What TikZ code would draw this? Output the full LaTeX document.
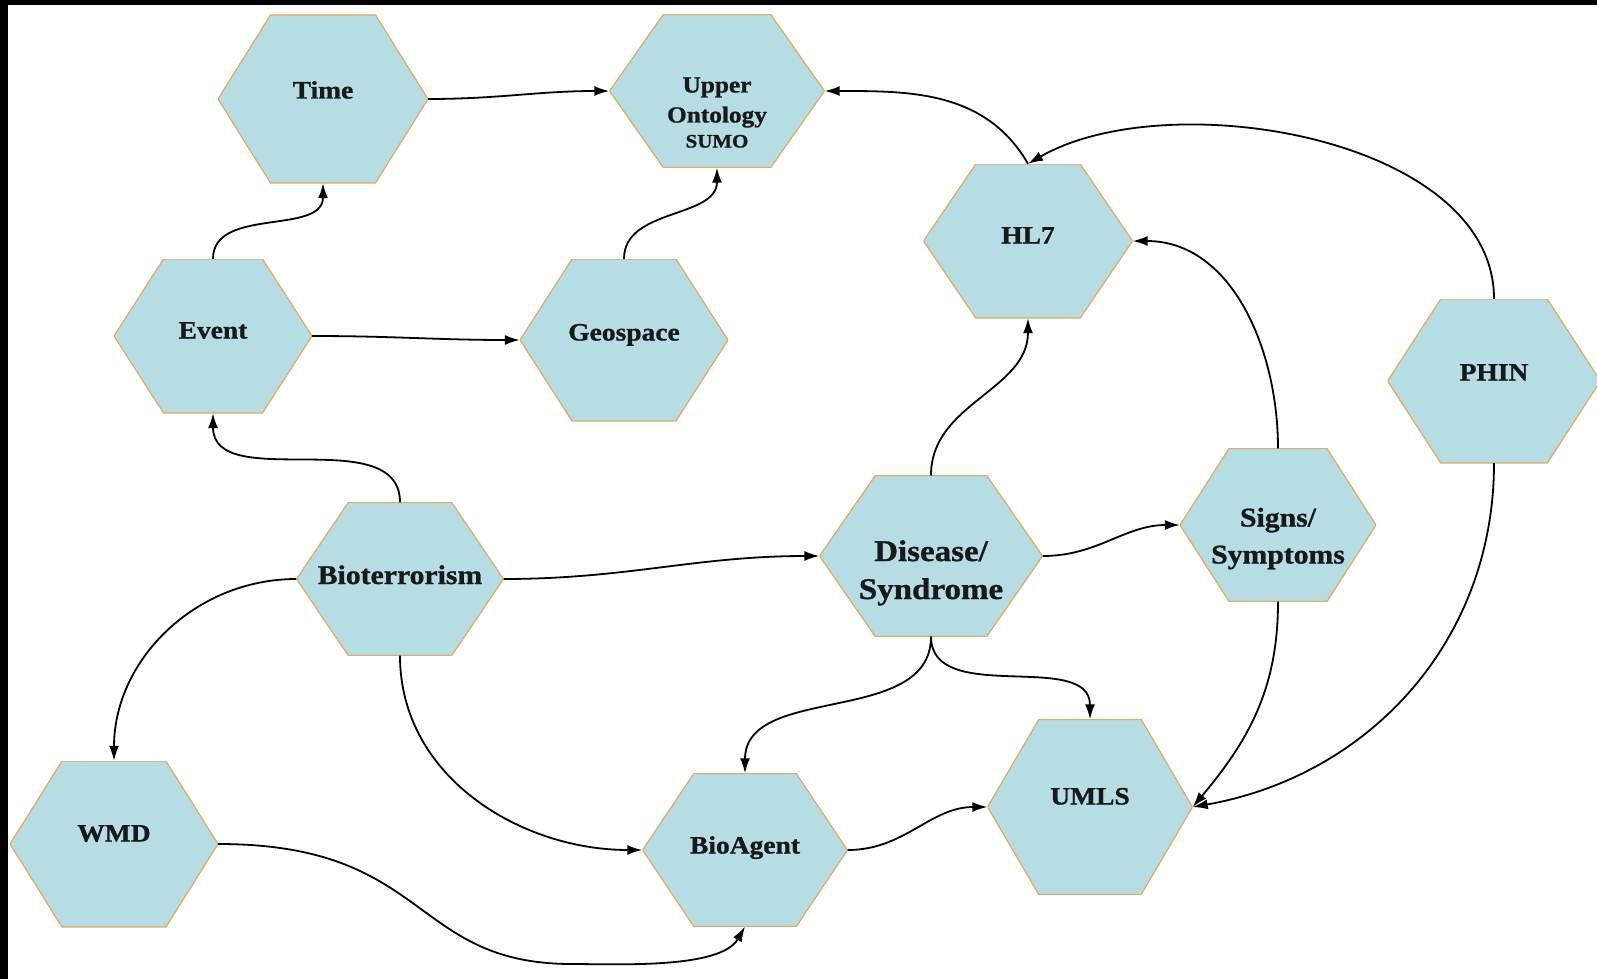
\documentclass[tikz,border=0pt]{standalone}
\usepackage{fontspec}
\newfontfamily\hexfont[FakeStretch=1.1, BoldFeatures={FakeBold=1}]{Liberation Serif}
\usetikzlibrary{calc,arrows.meta}

\definecolor{hexfill}{RGB}{181,221,227}
\definecolor{hexline}{RGB}{228,170,90}

\tikzset{
  hexa/.style={inner sep=0pt, align=center, text=black!90,
    path picture={
      \path[fill=hexfill, draw=hexline, line width=1.2pt]
        let \p1=(path picture bounding box.south west),
            \p2=(path picture bounding box.north east),
            \n1={0.25*(\x2-\x1)}, \n2={(\y1+\y2)/2}
        in (\x1,\n2) -- ({\x1+\n1},\y2) -- ({\x2-\n1},\y2) -- (\x2,\n2)
           -- ({\x2-\n1},\y1) -- ({\x1+\n1},\y1) -- cycle;
    }},
  txt/.style={text height=17pt, text depth=#1},
  arr/.style={-{Latex[length=15pt,width=10pt]}, line width=1.8pt, black},
}

\begin{document}
\begin{tikzpicture}[x=1pt,y=1pt]
    \providecommand{\labelsize}{\fontsize{25}{30}\selectfont}
    \providecommand{\bigsize}{\fontsize{30}{38}\selectfont}
    \providecommand{\midsize}{\fontsize{27}{37}\selectfont}
    \providecommand{\topsize}{\fontsize{23}{30}\selectfont}
    \useasboundingbox (0,0) rectangle (1597,-979);
    \fill[white] (0,0) rectangle (1597,-979);
    % black frame left and top
    \fill[black] (0,0) rectangle (1597,-5);
    \fill[black] (0,0) rectangle (8,-979);

    \node[hexa, minimum width=210pt, minimum height=168pt, font=\hexfont\bfseries\labelsize, txt=18pt] (time) at (323,-99) {Time};
    \node[hexa, minimum width=215pt, minimum height=153pt, font=\hexfont\bfseries\topsize, text height=120pt, text depth=7pt] (upper) at (717,-91) {Upper\\Ontology\\[-5pt]{\fontsize{19}{22}\selectfont SUMO}};
    \node[hexa, minimum width=198pt, minimum height=154pt, font=\hexfont\bfseries\labelsize, txt=12pt] (event) at (213,-336) {Event};
    \node[hexa, minimum width=208pt, minimum height=162pt, font=\hexfont\bfseries\labelsize, txt=16pt] (geo) at (624,-340) {Geospace};
    \node[hexa, minimum width=209pt, minimum height=154pt, font=\hexfont\bfseries\labelsize, txt=12pt] (hl7) at (1028,-241) {HL7};
    \node[hexa, minimum width=213pt, minimum height=164pt, font=\hexfont\bfseries\labelsize, txt=18pt] (phin) at (1494,-381) {PHIN};
    \node[hexa, minimum width=207pt, minimum height=153pt, font=\hexfont\bfseries\fontsize{27}{32}\selectfont, text height=18pt, text depth=8pt] (bio) at (400,-579) {Bioterrorism};
    \node[hexa, minimum width=223pt, minimum height=161pt, font=\hexfont\bfseries\bigsize, text height=96pt, text depth=10pt] (disease) at (931,-556) {Disease/\\Syndrome};
    \node[hexa, minimum width=196pt, minimum height=153pt, font=\hexfont\bfseries\midsize, text height=90pt, text depth=13pt] (signs) at (1278,-525) {Signs/\\Symptoms};
    \node[hexa, minimum width=208pt, minimum height=166pt, font=\hexfont\bfseries\labelsize, txt=22pt] (wmd) at (114,-844) {WMD};
    \node[hexa, minimum width=205pt, minimum height=153pt, font=\hexfont\bfseries\labelsize, txt=10pt] (bioagent) at (745,-850) {BioAgent};
    \node[hexa, minimum width=205pt, minimum height=175pt, font=\hexfont\bfseries\labelsize, txt=22pt] (umls) at (1090,-807) {UMLS};

    \draw[arr] (time.east) to[out=0,in=180] (upper.west);
    \draw[arr] (event.north) to[out=90,in=-90] (time.south);
    \draw[arr] (geo.north) to[out=90,in=-90] (upper.south);
    \draw[arr] (hl7.north) to[out=120,in=0] (upper.east);
    \draw[arr] (phin.north) to[out=90,in=30,looseness=0.85] (hl7.north);
    \draw[arr] (event.east) to[out=0,in=180] (geo.west);
    \draw[arr] (bio.north) to[out=90,in=-90] (event.south);
    \draw[arr] (bio.west) to[out=180,in=90] (wmd.north);
    \draw[arr] (bio.south) to[out=-90,in=180] (bioagent.west);
    \draw[arr] (bio.east) to[out=0,in=180] (disease.west);
    \draw[arr] (wmd.east) .. controls (430,-844) and (410,-963) .. (570,-964) to[out=0,in=-120,looseness=0.7] (bioagent.south);
    \draw[arr] (bioagent.east) to[out=0,in=180] (umls.west);
    \draw[arr] (disease.south) to[out=-90,in=90] (bioagent.north);
    \draw[arr] (disease.south) to[out=-90,in=90] (umls.north);
    \draw[arr] (disease.north) to[out=90,in=-90] (hl7.south);
    \draw[arr] (disease.east) to[out=0,in=180] (signs.west);
    \draw[arr] (signs.north) to[out=90,in=0] (hl7.east);
    \draw[arr] (signs.south) to[out=-90,in=50] (umls.east);
    \draw[arr] (phin.south) to[out=-90,in=10] (umls.east);
\end{tikzpicture}
\end{document}
